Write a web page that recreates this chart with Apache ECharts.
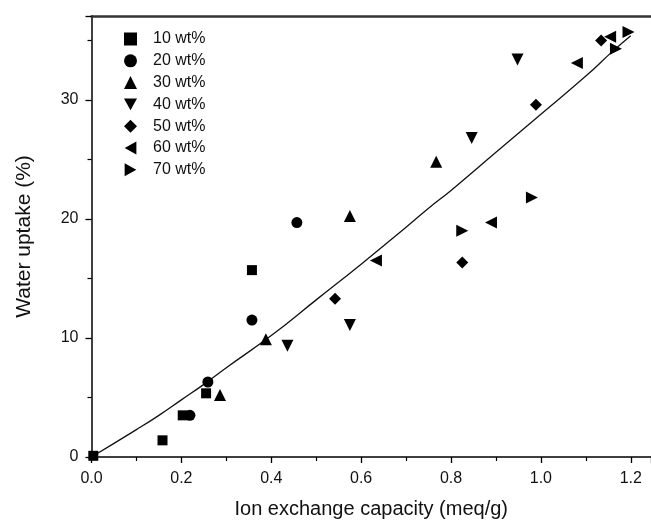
<!DOCTYPE html>
<html style="height: 100%">
<head>
  <meta charset="utf-8">
  <title>Water uptake vs IEC</title>
</head>
<body style="height: 100%; margin: 0; background: #fff">
<div id="container" style="height: 524px; width: 651px;"></div>
<script type="text/javascript" src="https://cdn.jsdelivr.net/npm/echarts@6/dist/echarts.min.js"></script>
<script type="text/javascript">
  // series names (legend order)
  var names = ['10 wt%', '20 wt%', '30 wt%', '40 wt%', '50 wt%', '60 wt%', '70 wt%'];

  // [IEC (meq/g), water uptake (%)]
  var wt10 = [[0.004, 0.1], [0.158, 1.4], [0.203, 3.5], [0.255, 5.35], [0.357, 15.7]];
  var wt20 = [[0.219, 3.5], [0.259, 6.3], [0.357, 11.5], [0.457, 19.7]];
  var wt30 = [[0.286, 5.2], [0.388, 9.9], [0.575, 20.25], [0.767, 24.8]];
  var wt40 = [[0.436, 9.35], [0.575, 11.1], [0.846, 26.8], [0.948, 33.4]];
  var wt50 = [[0.542, 13.3], [0.825, 16.35], [0.989, 29.6], [1.134, 35.0]];
  var wt60 = [[0.633, 16.5], [0.889, 19.7], [1.080, 33.1], [1.154, 35.3]];
  var wt70 = [[0.825, 19.0], [0.980, 21.8], [1.167, 34.3], [1.195, 35.7]];

  // fitted curve, points
  var fit = [[0, 0], [0.1, 2.3], [0.15, 3.5], [0.2, 4.8], [0.25, 6.1], [0.3, 7.5], [0.4, 10.2],
             [0.5, 13.2], [0.6, 16.2], [0.7, 19.3], [0.75, 20.9], [0.8, 22.4], [0.9, 25.6],
             [1.0, 28.8], [1.1, 32.0], [1.16, 34.1], [1.2, 35.4]];

  var xTicks = [0, 0.2, 0.4, 0.6, 0.8, 1.0, 1.2];
  var yTicks = [0, 10, 20, 30];

  var symbols = [
    'rect',
    'circle',
    'triangle',
    'path://M0,0 L10,0 L5,9 Z',
    'diamond',
    'path://M9,0 L9,10 L0,5 Z',
    'path://M0,0 L9,5 L0,10 Z'
  ];
  var sizes = [10, 11, 12, 12, 12, 12, 12];
  var groups = [wt10, wt20, wt30, wt40, wt50, wt60, wt70];

  var font = 'Liberation Sans, Arial, sans-serif';

  var series = names.map(function (n, i) {
    return {
      name: n,
      type: 'scatter',
      symbol: symbols[i],
      symbolSize: sizes[i],
      itemStyle: { color: '#000', opacity: 1 },
      data: groups[i],
      z: 3
    };
  });
  series.push({
    name: 'fit',
    type: 'line',
    data: fit,
    smooth: true,
    showSymbol: false,
    lineStyle: { color: '#111', width: 1.3 },
    z: 2
  });

  var dom = document.getElementById('container');
  var myChart = echarts.init(dom);
  var option = {
    backgroundColor: '#fff',
    animation: false,
    textStyle: { fontFamily: font, color: '#000' },
    grid: { left: 91.5, top: 16, right: 0, bottom: 67 },
    legend: {
      data: names,
      orient: 'vertical',
      left: 119,
      top: 25,
      itemWidth: 13,
      itemHeight: 13,
      itemGap: 3.8,
      itemStyle: { opacity: 1 },
      textStyle: { fontFamily: font, fontSize: 16, color: '#111', padding: [0, 0, 0, 11], lineHeight: 18 }
    },
    xAxis: [{
      type: 'value',
      min: 0,
      max: 1.245,
      interval: 0.2,
      name: 'Ion exchange capacity (meq/g)',
      nameLocation: 'middle',
      nameGap: 42,
      nameTextStyle: { fontFamily: font, fontSize: 20, color: '#111' },
      axisLine: { show: true, lineStyle: { color: '#000', width: 1.5 } },
      axisTick: { show: true, length: 6, lineStyle: { color: '#000', width: 1.3 } },
      minorTick: { show: true, splitNumber: 2, length: 4, lineStyle: { color: '#000', width: 1.2 } },
      splitLine: { show: false },
      axisLabel: {
        fontFamily: font, fontSize: 16, color: '#111', margin: 14, showMaxLabel: false,
        formatter: function (v) {
          return xTicks.indexOf(Math.round(v * 10) / 10) >= 0 ? v.toFixed(1) : '';
        }
      }
    }, {
      type: 'value',
      position: 'top',
      min: 0,
      max: 1.245,
      axisLine: { show: true, lineStyle: { color: '#333', width: 2.5 } },
      axisTick: { show: false },
      axisLabel: { show: false },
      splitLine: { show: false }
    }],
    yAxis: {
      type: 'value',
      min: 0,
      max: 37.05,
      interval: 10,
      name: 'Water uptake (%)',
      nameLocation: 'middle',
      nameGap: 57,
      nameTextStyle: { fontFamily: font, fontSize: 21, color: '#111' },
      axisLine: { show: true, lineStyle: { color: '#000', width: 1.5 } },
      axisTick: { show: true, length: 6, lineStyle: { color: '#000', width: 1.3 } },
      minorTick: { show: true, splitNumber: 2, length: 4, lineStyle: { color: '#000', width: 1.2 } },
      splitLine: { show: false },
      axisLabel: {
        fontFamily: font, fontSize: 16, color: '#111', margin: 13, showMaxLabel: false,
        formatter: function (v) {
          return yTicks.indexOf(v) >= 0 ? String(v) : '';
        }
      }
    },
    series: series
  };
  myChart.setOption(option, true);
</script>
</body>
</html>
